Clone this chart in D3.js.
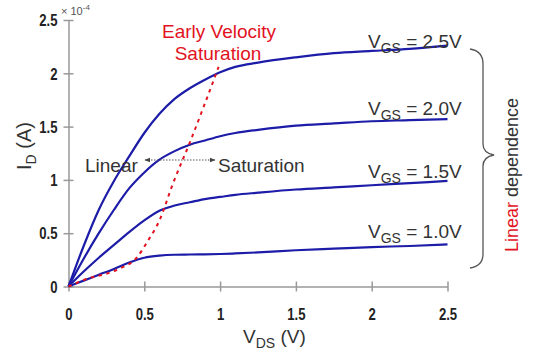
<!DOCTYPE html>
<html>
<head>
<meta charset="utf-8">
<script src="https://cdn.jsdelivr.net/npm/d3@7"></script>
<style>
  body { margin: 0; background: #fff; }
  text { font-family: "Liberation Sans", Arial, sans-serif; }
  .tick text { font-family: "Liberation Sans", Arial, sans-serif; font-weight: bold; }
</style>
</head>
<body>
<div id="chart-area"></div>
<script>
// data (VDS in V, ID in 1e-4 A)
const vGrid = [0, 0.1, 0.2, 0.3, 0.4, 0.5, 0.6, 0.7, 0.8, 0.9, 1.0, 1.1, 1.25, 1.5, 1.75, 2.0, 2.25, 2.5]
const id25 = [0, 0.38, 0.72, 0.99, 1.22, 1.44, 1.62, 1.76, 1.86, 1.94, 2.01, 2.06, 2.10, 2.15, 2.19, 2.21, 2.23, 2.26]
const id20 = [0, 0.26, 0.5, 0.72, 0.92, 1.07, 1.19, 1.27, 1.33, 1.37, 1.41, 1.44, 1.47, 1.51, 1.53, 1.55, 1.56, 1.57]
const id15 = [0, 0.14, 0.27, 0.39, 0.51, 0.62, 0.71, 0.76, 0.79, 0.82, 0.84, 0.86, 0.88, 0.91, 0.93, 0.95, 0.97, 0.99]
const id10 = [0, 0.055, 0.11, 0.165, 0.225, 0.27, 0.29, 0.298, 0.3, 0.302, 0.305, 0.31, 0.32, 0.34, 0.355, 0.37, 0.38, 0.395]
const vgsLabels = ["2.5V", "2.0V", "1.5V", "1.0V"]

// early velocity saturation boundary
const satV = [0, 0.14, 0.25, 0.34, 0.45, 0.52, 0.6, 0.69, 0.8, 0.89, 0.99]
const satI = [0, 0.08, 0.12, 0.17, 0.27, 0.42, 0.62, 0.97, 1.35, 1.68, 2.06]

const xTicks = [0, 0.5, 1, 1.5, 2, 2.5]
const xTickLabels = ["0", "0.5", "1", "1.5", "2", "2.5"]
const yTicks = [0, 0.5, 1, 1.5, 2, 2.5]
const yTickLabels = ["0", "0.5", "1", "1.5", "2", "2.5"]

const svgWidth = 540
const svgHeight = 351
const blue = "#1c1ca8"
const red = "#e2121e"
const ink = "#333"
const narrow = 0.82

const svg = d3.select("#chart-area")
  .append("svg")
  .attr("width", svgWidth)
  .attr("height", svgHeight)

const xScale = d3.scaleLinear().domain([0, 2.5]).range([68.5, 447.5])
const yScale = d3.scaleLinear().domain([0, 2.5]).range([286.5, 20])

// axes
const xAxis = svg.append("g")
  .attr("transform", `translate(0,${yScale(0)})`)
  .call(d3.axisBottom(xScale).tickValues(xTicks).tickSizeOuter(0)
    .tickFormat((d, i) => xTickLabels[i]))
xAxis.selectAll(".tick line").attr("y1", -5).attr("y2", 5)
xAxis.selectAll(".tick text")
  .attr("y", 34).attr("dy", 0).attr("font-size", 16).attr("fill", "#222")
  .attr("transform", `scale(${narrow},1)`)

const yAxis = svg.append("g")
  .attr("transform", `translate(${xScale(0)},0)`)
  .call(d3.axisLeft(yScale).tickValues(yTicks).tickSizeOuter(0)
    .tickFormat((d, i) => yTickLabels[i]))
yAxis.selectAll(".tick line").attr("x1", -5).attr("x2", 5)
yAxis.selectAll(".tick text")
  .attr("x", -11 / narrow).attr("dy", "0.36em").attr("font-size", 16).attr("fill", "#222")
  .attr("transform", `scale(${narrow},1)`)

svg.selectAll(".domain, .tick line")
  .attr("stroke", "#999")
  .attr("stroke-width", 1.5)

// exponent
const expo = svg.append("text").attr("x", 61).attr("y", 15).attr("fill", "#555").attr("font-size", 11)
expo.append("tspan").text("× 10")
expo.append("tspan").attr("dy", -5).attr("font-size", 8).text("-4")

// axis titles
const xTitle = svg.append("text").attr("x", 243).attr("y", 343).attr("fill", ink).attr("font-size", 19)
xTitle.append("tspan").text("V")
xTitle.append("tspan").attr("dy", 5).attr("font-size", 14).text("DS")
xTitle.append("tspan").attr("dy", -5).text(" (V)")

const yTitle = svg.append("text")
  .attr("transform", "translate(31,170) rotate(-90)")
  .attr("fill", ink).attr("font-size", 20)
yTitle.append("tspan").text("I")
yTitle.append("tspan").attr("dy", 5).attr("font-size", 14).text("D")
yTitle.append("tspan").attr("dy", -5).text(" (A)")

// curves
const lineGen = d3.line()
  .x(d => xScale(d[0]))
  .y(d => yScale(d[1]))
  .curve(d3.curveMonotoneX)

const series = [id25, id20, id15, id10]
series.forEach(ids => {
  svg.append("path")
    .attr("d", lineGen(vGrid.map((v, i) => [v, ids[i]])))
    .attr("fill", "none")
    .attr("stroke", blue)
    .attr("stroke-width", 2.2)
})

svg.append("path")
  .attr("d", lineGen(satV.map((v, i) => [v, satI[i]])))
  .attr("fill", "none")
  .attr("stroke", red)
  .attr("stroke-width", 2)
  .attr("stroke-dasharray", "3.5,4.5")

// VGS labels
const labelY = [48, 115, 178, 238]
vgsLabels.forEach((lab, i) => {
  const t = svg.append("text").attr("x", 368).attr("y", labelY[i]).attr("fill", ink).attr("font-size", 19)
  t.append("tspan").text("V")
  t.append("tspan").attr("dy", 5).attr("font-size", 14).text("GS")
  t.append("tspan").attr("dy", -5).text(" = " + lab)
})

// Early velocity saturation label
svg.append("text").attr("x", 219).attr("y", 38).attr("text-anchor", "middle")
  .attr("fill", red).attr("font-size", 19).text("Early Velocity")
svg.append("text").attr("x", 218).attr("y", 60).attr("text-anchor", "middle")
  .attr("fill", red).attr("font-size", 19).text("Saturation")

// Linear <-> Saturation
svg.append("defs").append("marker")
  .attr("id", "arr")
  .attr("viewBox", "0 0 10 10")
  .attr("refX", 9).attr("refY", 5)
  .attr("markerWidth", 6).attr("markerHeight", 6)
  .attr("orient", "auto-start-reverse")
  .append("path").attr("d", "M0,1 L10,5 L0,9 Z").attr("fill", "#444")

svg.append("line")
  .attr("x1", 145).attr("y1", 160).attr("x2", 215).attr("y2", 160)
  .attr("stroke", "#555").attr("stroke-width", 1)
  .attr("stroke-dasharray", "1.5,1.5")
  .attr("marker-start", "url(#arr)")
  .attr("marker-end", "url(#arr)")

svg.append("text").attr("x", 85).attr("y", 172).attr("fill", ink).attr("font-size", 19).text("Linear")
svg.append("text").attr("x", 218).attr("y", 172).attr("fill", ink).attr("font-size", 19).text("Saturation")

// brace
svg.append("path")
  .attr("d", "M470,49 Q483,51 483,64 L483,144 Q483,153 494,155 Q483,157 483,166 L483,254 Q483,266 470,268")
  .attr("fill", "none")
  .attr("stroke", "#555")
  .attr("stroke-width", 1.3)

const dep = svg.append("text")
  .attr("transform", "translate(518,175) rotate(-90)")
  .attr("text-anchor", "middle")
  .attr("font-size", 18)
dep.append("tspan").attr("fill", red).text("Linear")
dep.append("tspan").attr("fill", ink).text(" dependence")
</script>
</body>
</html>
